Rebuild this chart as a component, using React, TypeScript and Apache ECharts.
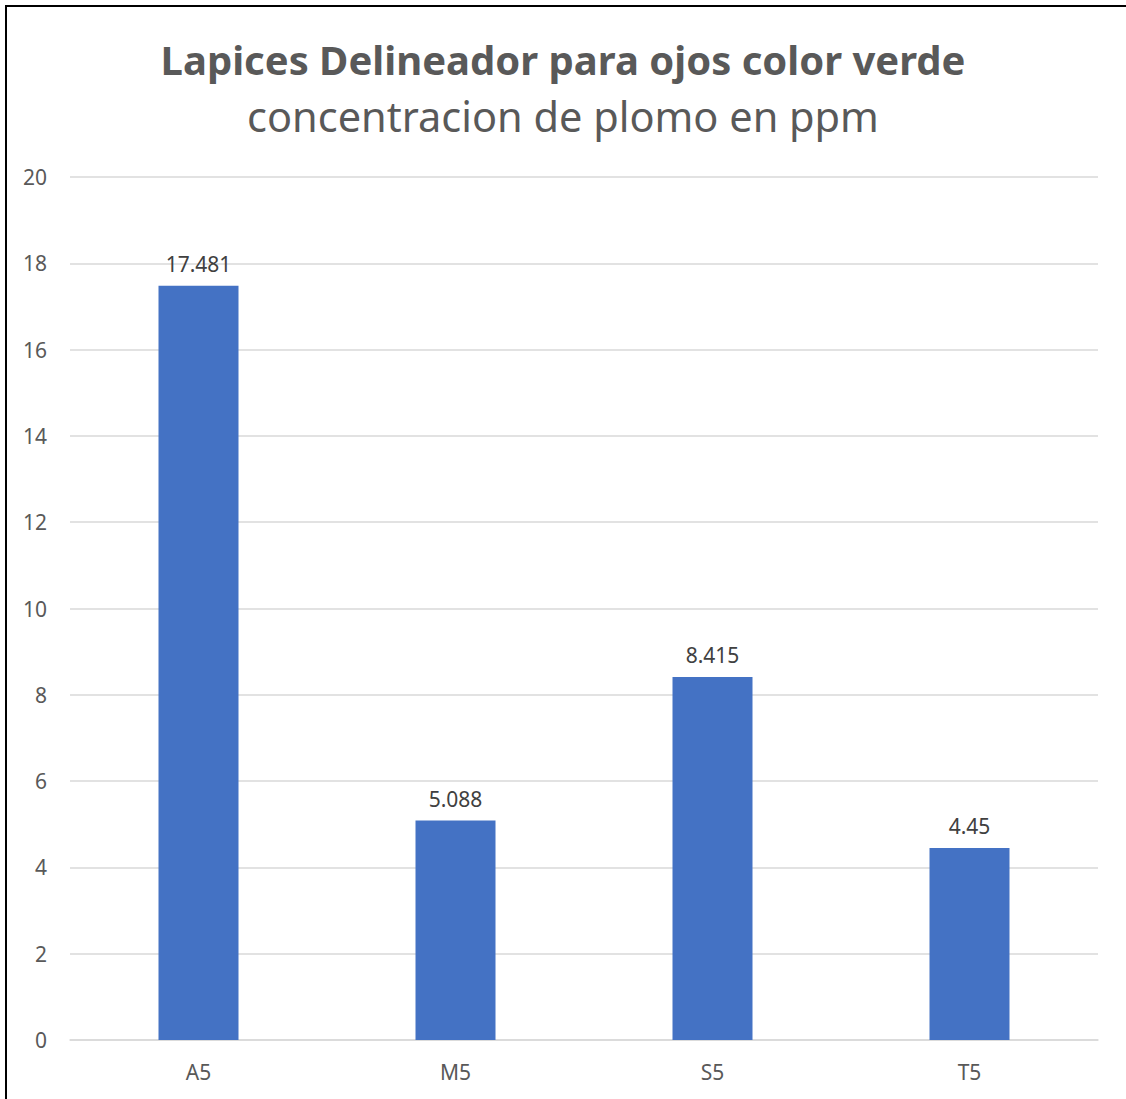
import React, { useEffect, useRef } from "react";
import * as echarts from "echarts";

const categories = ["A5", "M5", "S5", "T5"];
const leadPpm = [17.481, 5.088, 8.415, 4.45];
const yTicks = { min: 0, max: 20, interval: 2 };

const titleText = "Lapices Delineador para ojos color verde";
const subtitleText = "concentracion de plomo en ppm";

const FONT = "'Noto Sans', 'Open Sans', sans-serif";

export default function App() {
  const ref = useRef<HTMLDivElement>(null);

  useEffect(() => {
    if (!ref.current) return;
    const chart = echarts.init(ref.current, undefined, { renderer: "svg" });
    chart.setOption({
      animation: false,
      backgroundColor: "#ffffff",
      title: {
        text: titleText,
        subtext: subtitleText,
        left: "center",
        top: 34,
        itemGap: 16,
        textStyle: {
          fontFamily: FONT,
          fontWeight: "bold",
          fontSize: 40,
          color: "#595959",
        },
        subtextStyle: {
          fontFamily: FONT,
          fontSize: 41.5,
          color: "#595959",
        },
      },
      grid: { left: 70, right: 28, top: 177, bottom: 59 },
      xAxis: {
        type: "category",
        data: categories,
        axisLine: { show: true, lineStyle: { color: "#d9d9d9", width: 1.5 } },
        axisTick: { show: false },
        axisLabel: {
          fontFamily: FONT,
          fontSize: 21,
          color: "#595959",
          margin: 21,
        },
      },
      yAxis: {
        type: "value",
        min: yTicks.min,
        max: yTicks.max,
        interval: yTicks.interval,
        axisLine: { show: false },
        axisTick: { show: false },
        splitLine: { lineStyle: { color: "#d9d9d9", width: 1.5 } },
        axisLabel: {
          fontFamily: FONT,
          fontSize: 21,
          color: "#595959",
          margin: 23,
        },
      },
      series: [
        {
          type: "bar",
          data: leadPpm,
          barWidth: 80,
          itemStyle: { color: "#4472c4" },
          label: {
            show: true,
            position: "top",
            distance: 11,
            fontFamily: FONT,
            fontSize: 21,
            color: "#404040",
            formatter: (p: any) => String(p.value),
          },
        },
      ],
    });
    return () => chart.dispose();
  }, []);

  return (
    <div
      style={{
        position: "absolute",
        left: 0,
        top: 0,
        width: 1126,
        height: 1099,
        background: "#fff",
      }}
    >
      <div ref={ref} style={{ position: "absolute", left: 0, top: 0, width: 1126, height: 1099 }} />
      <div
        style={{
          position: "absolute",
          left: 5,
          top: 5,
          width: 1121,
          height: 1094,
          borderTop: "2px solid #000",
          borderLeft: "2px solid #000",
          boxSizing: "border-box",
          pointerEvents: "none",
        }}
      />
    </div>
  );
}
